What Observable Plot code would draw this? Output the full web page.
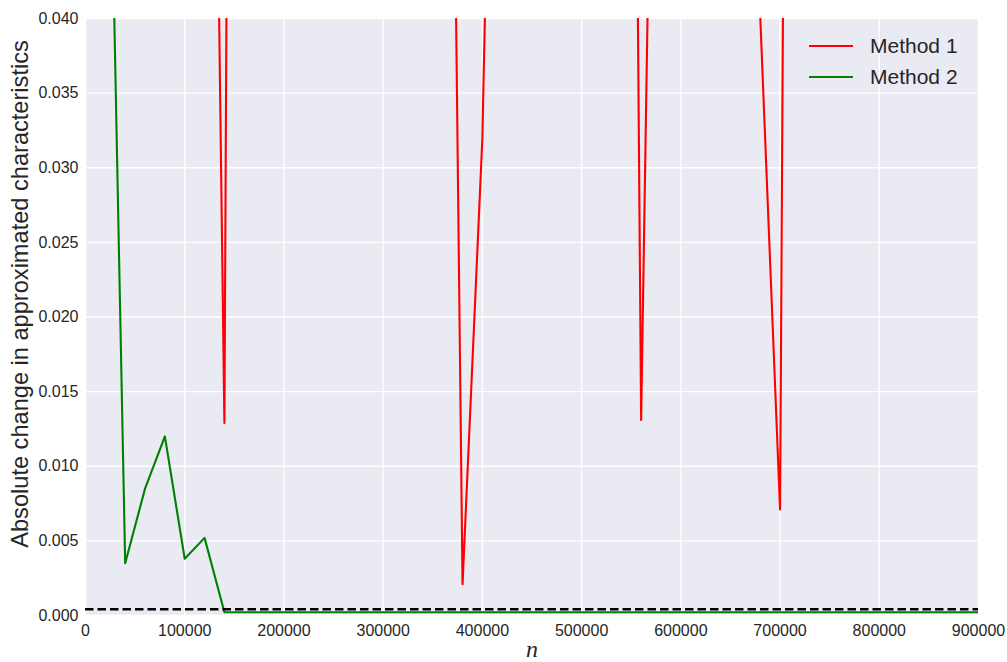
<!DOCTYPE html>
<html>
<head>
<meta charset="utf-8">
<script src="https://cdn.jsdelivr.net/npm/d3@7"></script>
<script src="https://cdn.jsdelivr.net/npm/@observablehq/plot@0.6"></script>
<style>
  html, body { margin: 0; padding: 0; background: #ffffff; }
  #wrap { position: relative; width: 1007px; height: 662px; }
  #legend { position: absolute; left: 809px; top: 31px; font-family: "Liberation Sans", Arial, sans-serif; font-size: 21px; color: #262626; }
  .row { display: flex; align-items: center; height: 30.6px; }
  .swatch { width: 44px; height: 2px; margin-right: 17px; }
</style>
</head>
<body>
<div id="wrap"></div>
<script>
// ---- data ----
const nValues = [20000, 40000, 60000, 80000, 100000, 120000, 140000, 160000, 180000, 200000,
  220000, 240000, 260000, 280000, 300000, 320000, 340000, 360000, 380000, 400000,
  420000, 440000, 460000, 480000, 500000, 520000, 540000, 560000, 580000, 600000,
  620000, 640000, 660000, 680000, 700000, 720000, 740000, 760000, 780000, 800000,
  820000, 840000, 860000, 880000, 900000];
const method1 = [0.62, 0.45, 0.33, 0.24, 0.17, 0.115, 0.0129, 0.28, 0.36, 0.41,
  0.43, 0.44, 0.43, 0.40, 0.35, 0.29, 0.21, 0.119, 0.0021, 0.032,
  0.096, 0.16, 0.21, 0.24, 0.25, 0.23, 0.178, 0.0131, 0.097, 0.13,
  0.12, 0.10, 0.07, 0.0402, 0.0071, 0.234, 0.30, 0.34, 0.36, 0.37,
  0.36, 0.34, 0.31, 0.27, 0.22];
const method2 = [0.07, 0.0035, 0.0085, 0.012, 0.0038, 0.0052, 0.00022, 0.00022, 0.00022, 0.00022,
  0.00022, 0.00022, 0.00022, 0.00022, 0.00022, 0.00022, 0.00022, 0.00022, 0.00022, 0.00022,
  0.00022, 0.00022, 0.00022, 0.00022, 0.00022, 0.00022, 0.00022, 0.00022, 0.00022, 0.00022,
  0.00022, 0.00022, 0.00022, 0.00022, 0.00022, 0.00022, 0.00022, 0.00022, 0.00022, 0.00022,
  0.00022, 0.00022, 0.00022, 0.00022, 0.00022];
const threshold = [0.00042];
const seriesNames = ["Method 1", "Method 2"];
const seriesColors = ["#ff0000", "#008000"];
const xTicks = [0, 100000, 200000, 300000, 400000, 500000, 600000, 700000, 800000, 900000];
const yTicks = [0, 0.005, 0.01, 0.015, 0.02, 0.025, 0.03, 0.035, 0.04];
const xLabel = "n";
const yLabel = "Absolute change in approximated characteristics";

const rows1 = nValues.map((n, i) => ({n, v: method1[i]}));
const rows2 = nValues.map((n, i) => ({n, v: method2[i]}));

const chart = Plot.plot({
  width: 1007,
  height: 662,
  marginLeft: 85,
  marginRight: 29,
  marginTop: 18,
  marginBottom: 47,
  style: {fontFamily: "'Liberation Sans', Arial, sans-serif", fontSize: "16px", color: "#262626", background: "#ffffff"},
  x: {domain: [0, 900000]},
  y: {domain: [0, 0.04]},
  marks: [
    Plot.frame({fill: "#EAEAF2", stroke: null}),
    Plot.gridX(xTicks, {stroke: "#ffffff", strokeOpacity: 1, strokeWidth: 1.3}),
    Plot.gridY(yTicks, {stroke: "#ffffff", strokeOpacity: 1, strokeWidth: 1.3}),
    Plot.line(rows1, {x: "n", y: "v", stroke: seriesColors[0], strokeWidth: 2.1, clip: true}),
    Plot.line(rows2, {x: "n", y: "v", stroke: seriesColors[1], strokeWidth: 2.1, clip: true}),
    Plot.ruleY(threshold, {stroke: "#000000", strokeWidth: 2.3, strokeDasharray: "8.5,4"}),
    Plot.axisX(xTicks, {tickSize: 0, tickPadding: 9, tickFormat: d => String(d), label: null, fill: "#262626"}),
    Plot.axisY(yTicks, {tickSize: 0, tickPadding: 7, tickFormat: d3.format(".3f"), label: null, fill: "#262626"}),
    Plot.text([yLabel], {frameAnchor: "left", textAnchor: "middle", dx: -65, dy: -23, rotate: -90, text: d => d, fontSize: 23.6, fill: "#262626"}),
    Plot.text([xLabel], {frameAnchor: "bottom", dy: 41, text: d => d, fontSize: 24, fontStyle: "italic", fontFamily: "'Liberation Serif', 'DejaVu Serif', serif", fill: "#262626"})
  ]
});

const wrap = document.getElementById("wrap");
wrap.appendChild(chart);

const legend = document.createElement("div");
legend.id = "legend";
seriesNames.forEach((name, i) => {
  const row = document.createElement("div");
  row.className = "row";
  const sw = document.createElement("span");
  sw.className = "swatch";
  sw.style.background = seriesColors[i];
  const tx = document.createElement("span");
  tx.textContent = name;
  row.appendChild(sw);
  row.appendChild(tx);
  legend.appendChild(row);
});
wrap.appendChild(legend);
</script>
</body>
</html>
